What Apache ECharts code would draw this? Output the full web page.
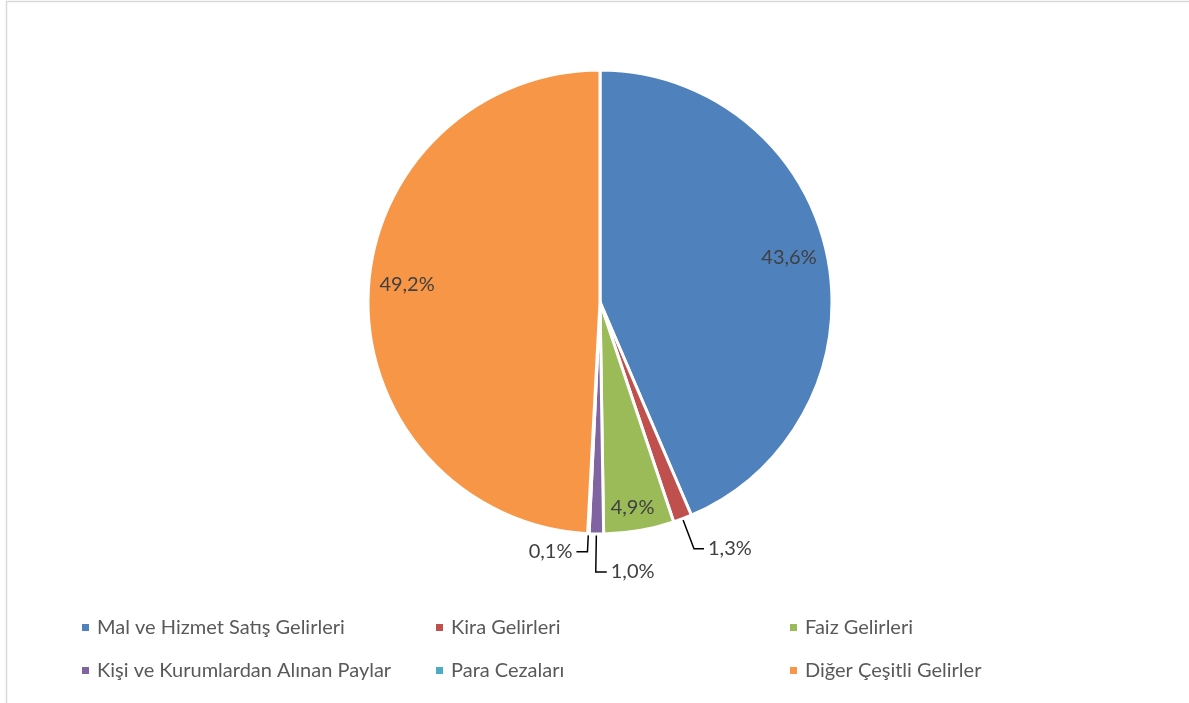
<!DOCTYPE html>
<html>
<head>
<meta charset="utf-8">
<script src="https://cdn.jsdelivr.net/npm/echarts@6/dist/echarts.min.js"></script>
<style>html,body{margin:0;padding:0;background:#fff;}#c{width:1189px;height:703px;}</style>
</head>
<body>
<div id="c"></div>
<script>
const categories = ['Mal ve Hizmet Satış Gelirleri', 'Kira Gelirleri', 'Faiz Gelirleri', 'Kişi ve Kurumlardan Alınan Paylar', 'Para Cezaları', 'Diğer Çeşitli Gelirler'];
const values = [43.6, 1.3, 4.9, 1.0, 0.1, 49.2];
const colors = ['#4f81bd', '#c0504d', '#9bbb59', '#8064a2', '#4bacc6', '#f79646'];
const insideLabelIdx = [0, 2, 5];
const outsideLines = {1: [32, 10], 3: [38, 11], 4: [18, 11]};
// vertical nudge for inside labels: [direction, lineHeight]
const insideShift = {0: [-1, 12], 2: [1, 30], 5: [-1, 24]};
const FONT = 'Lato';
const FS = 20;
const fmt = v => v.toFixed(1).replace('.', ',') + '%';

const chart = echarts.init(document.getElementById('c'), null, {renderer: 'canvas'});

const mainData = categories.map((name, i) => {
  const o = {name, value: values[i], itemStyle: {color: colors[i]}};
  if (outsideLines[i]) {
    o.label = {show: true, position: 'outside'};
    o.labelLine = {show: true, length: outsideLines[i][0], length2: outsideLines[i][1]};
  } else {
    o.label = {show: false};
    o.labelLine = {show: false};
  }
  return o;
});

const labelData = categories.map((name, i) => {
  const o = {name, value: values[i], itemStyle: {color: 'transparent', borderWidth: 0}};
  if (insideLabelIdx.includes(i)) {
    o.label = {show: true, position: 'inside', lineHeight: insideShift[i][1]};
  } else {
    o.label = {show: false};
  }
  return o;
});

chart.setOption({
  animation: false,
  backgroundColor: '#fff',
  color: colors,
  graphic: [{
    type: 'rect', silent: true, z: -10,
    shape: {x: 6.5, y: 1.5, width: 1200, height: 740},
    style: {fill: 'none', stroke: '#d9d9d9', lineWidth: 1.5}
  }],
  legend: {
    data: categories,
    left: 75, top: 606, width: 1070,
    orient: 'horizontal',
    icon: 'rect', itemWidth: 9, itemHeight: 9, itemGap: 10,
    selectedMode: false,
    textStyle: {fontFamily: FONT, fontSize: FS, color: '#595959', width: 327, lineHeight: 33, padding: [0, 0, 0, 2]}
  },
  series: [{
    name: 'main', type: 'pie',
    center: [600, 302], radius: 232,
    startAngle: 90, clockwise: true,
    avoidLabelOverlap: false,
    silent: true,
    itemStyle: {borderColor: '#fff', borderWidth: 3},
    label: {fontFamily: FONT, fontSize: FS, color: '#404040', formatter: p => fmt(p.value), distanceToLabelLine: 4},
    labelLine: {lineStyle: {color: '#000', width: 1.5}, smooth: false},
    emphasis: {disabled: true},
    labelLayout: function (params) {
      if (params.dataIndex === 3 && params.labelLinePoints) {
        const p = params.labelLinePoints;
        const p0 = p[0], p1 = p[1], p2 = p[2];
        const end = [2 * p1[0] - p2[0], p2[1]];
        return {
          x: end[0] + 4, y: end[1], align: 'left', verticalAlign: 'middle',
          labelLinePoints: [p0, p1, end]
        };
      }
      return {};
    },
    data: mainData
  }, {
    name: 'labels', type: 'pie',
    center: [600, 302], radius: [150, 230],
    startAngle: 90, clockwise: true,
    silent: true, z: 5,
    avoidLabelOverlap: false,
    label: {
      fontFamily: FONT, fontSize: FS, color: '#404040',
      formatter: p => {
        const s = insideShift[p.dataIndex];
        const t = fmt(p.value);
        if (!s) return t;
        return s[0] < 0 ? t + '\n' : '\n' + t;
      }
    },
    labelLine: {show: false},
    emphasis: {disabled: true},
    data: labelData
  }]
});
</script>
</body>
</html>
